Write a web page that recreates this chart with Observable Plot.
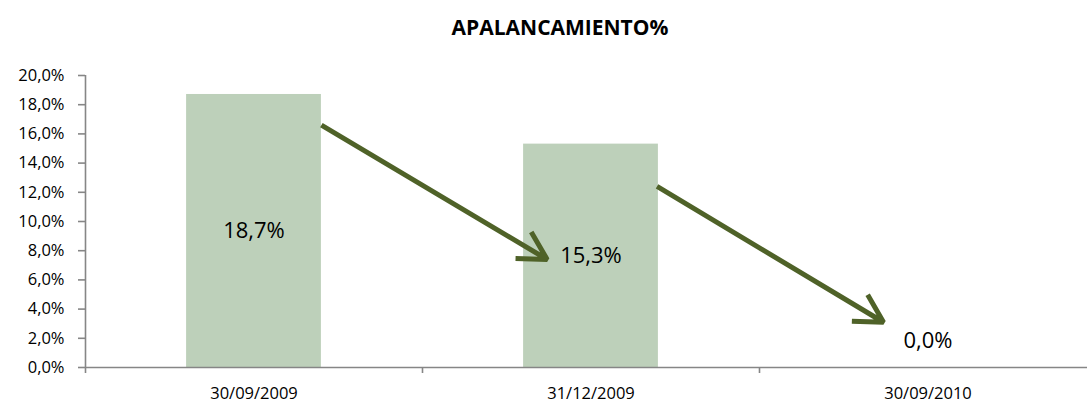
<!DOCTYPE html>
<html>
<head>
<meta charset="utf-8">
<script src="https://cdn.jsdelivr.net/npm/d3@7"></script>
<script src="https://cdn.jsdelivr.net/npm/@observablehq/plot@0.6"></script>
<style>
  html, body { margin: 0; padding: 0; background: #fff; }
  #wrap { position: relative; width: 1087px; height: 405px; overflow: hidden; }
  #title { position: absolute; top: 13px; left: 0; width: 1120px; text-align: center;
           font-family: "Open Sans", sans-serif; font-weight: bold; font-size: 21px; color: #000; line-height: 28px; }
  svg { font-family: "Open Sans", sans-serif; }
</style>
</head>
<body>
<div id="wrap">
  <div id="title">APALANCAMIENTO%</div>
  <div id="chart"></div>
</div>
<script>
// Data
const categories = ["30/09/2009", "31/12/2009", "30/09/2010"];
const values = [18.7, 15.3, 0.0];           // percent
const yTicks = [0, 2, 4, 6, 8, 10, 12, 14, 16, 18, 20];
// Trend arrows (category-position, percent)
const arrowX1 = [0.70, 1.696];
const arrowY1 = [16.6, 12.4];
const arrowX2 = [1.37, 2.368];
const arrowY2 = [7.4, 3.1];

const fmt = d => d.toFixed(1).replace(".", ",") + "%";
const rows = categories.map((c, i) => ({c, i, v: values[i]}));
const arrows = arrowX1.map((x, i) => ({x1: x, y1: arrowY1[i], x2: arrowX2[i], y2: arrowY2[i]}));

const axisColor = "#868686";
const chart = Plot.plot({
  width: 1087,
  height: 405,
  marginLeft: 85,
  marginRight: 0,
  marginTop: 75,
  marginBottom: 38,
  x: {type: "linear", domain: [0, 1002 / 337], axis: null},
  y: {domain: [0, 20], axis: null},
  style: {fontFamily: "Open Sans, sans-serif", color: "#000", background: "#fff"},
  marks: [
    Plot.rectY(rows, {x1: d => d.i + 0.3, x2: d => d.i + 0.7, y: "v", fill: "#BDD0BA"}),
    Plot.ruleY([0], {stroke: axisColor, strokeWidth: 1.6}),
    Plot.ruleX([0], {y1: 0, y2: 20, stroke: axisColor, strokeWidth: 1.6}),
    Plot.axisY({ticks: yTicks, tickFormat: fmt, tickSize: 7, tickPadding: 14, fontSize: 16.5,
                stroke: axisColor, strokeWidth: 1.6, strokeOpacity: 1, fill: "#000"}),
    Plot.axisX({ticks: [0, 1, 2, 3], tickSize: 6, tickFormat: () => "",
                stroke: axisColor, strokeWidth: 1.6, strokeOpacity: 1}),
    Plot.axisX({ticks: categories.map((c, i) => i + 0.5), tickSize: 0, tickPadding: 20,
                tickFormat: d => categories[Math.floor(d)], fontSize: 16.5, fill: "#000"}),
    Plot.arrow(arrows, {x1: "x1", y1: "y1", x2: "x2", y2: "y2", stroke: "#4F6228",
                        strokeWidth: 5, headLength: 9.5, headAngle: 58, strokeLinecap: "butt"}),
    Plot.text(rows.filter(d => d.v > 0), {x: d => d.i + 0.5, y: d => d.v / 2, text: d => fmt(d.v),
                        fontSize: 22, fill: "#000"}),
    Plot.text(rows.filter(d => d.v <= 0), {x: d => d.i + 0.5, y: 0, dy: -27, text: d => fmt(d.v),
                        fontSize: 22, fill: "#000"})
  ]
});
document.getElementById("chart").appendChild(chart);
</script>
</body>
</html>
